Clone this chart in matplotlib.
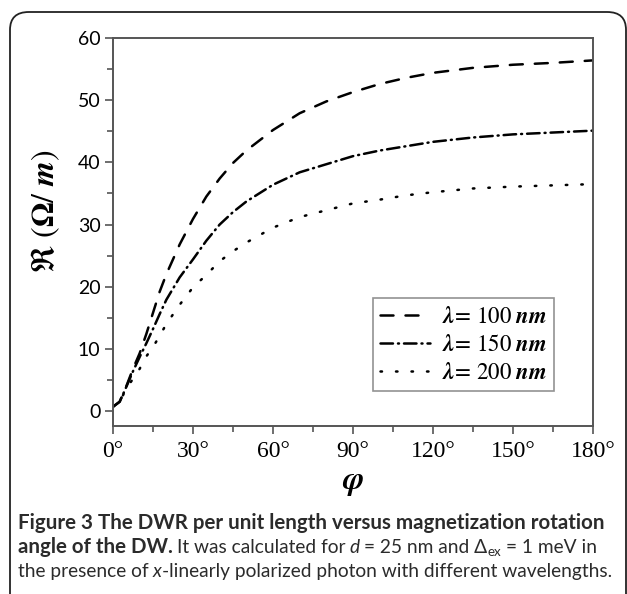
import matplotlib
matplotlib.use("Agg")
import matplotlib.pyplot as plt
from matplotlib.patches import FancyBboxPatch

plt.rcParams['mathtext.fontset'] = 'stix'

# ---------------- data ----------------
phi = [0, 2.5, 5, 7.5, 10, 12.5, 15, 17.5, 20, 25, 30, 35, 40, 45, 50, 60,
       70, 80, 90, 100, 110, 120, 135, 150, 165, 180]
r_100 = [0.7, 1.5, 4.0, 6.8, 9.3, 12.4, 15.8, 19.2, 22.0, 26.8, 30.9, 34.5,
         37.4, 39.9, 41.9, 45.2, 47.9, 49.8, 51.3, 52.6, 53.6, 54.4, 55.2,
         55.7, 56.0, 56.4]
r_150 = [0.7, 1.5, 3.9, 6.4, 8.7, 10.9, 13.2, 15.6, 17.9, 21.5, 24.4, 27.4,
         30.0, 32.0, 33.7, 36.4, 38.4, 39.7, 41.0, 41.9, 42.6, 43.3, 44.0,
         44.5, 44.8, 45.1]
r_200 = [0.7, 1.5, 3.6, 5.2, 6.8, 8.8, 10.3, 12.1, 14.0, 17.1, 19.9, 21.9,
         24.1, 25.7, 27.1, 29.5, 31.2, 32.3, 33.4, 34.0, 34.7, 35.2, 35.8,
         36.1, 36.3, 36.5]
labels = [r'$\mathbfit{\lambda}\!=\,100\ \mathbfit{nm}$',
          r'$\mathbfit{\lambda}\!=\,150\ \mathbfit{nm}$',
          r'$\mathbfit{\lambda}\!=\,200\ \mathbfit{nm}$']
xticks = [0, 30, 60, 90, 120, 150, 180]
xticklabels = ['0°', '30°', '60°', '90°', '120°', '150°', '180°']
yticks = [0, 10, 20, 30, 40, 50, 60]
yticklabels = ['0', '10', '20', '30', '40', '50', '60']

# ---------------- figure ----------------
W, H = 627, 594
fig = plt.figure(figsize=(W / 100, H / 100), dpi=100)

# outer rounded frame
frame = FancyBboxPatch((10 / W, 0.0 - 20 / H), (616) / W, (594 - 12 + 20) / H,
                       boxstyle="round,pad=0,rounding_size=0.03",
                       transform=fig.transFigure, fill=False,
                       edgecolor='#222222', linewidth=1.3, clip_on=False)
fig.patches.append(frame)

ax = fig.add_axes([113 / W, (594 - 426) / H, 480 / W, 388 / H])

lw = 1.8
ax.plot(phi, r_100, color='black', lw=lw, linestyle=(0, (5.2, 4.8)),
        dash_capstyle='round', label=labels[0])
ax.plot(phi, r_150, color='black', lw=lw, linestyle=(0, (5.0, 2.0, 0.4, 2.0)),
        dash_capstyle='round', label=labels[1])
ax.plot(phi, r_200, color='black', lw=lw, linestyle=(0, (0.6, 5.6)),
        dash_capstyle='round', label=labels[2])

ax.set_xlim(0, 180)
ax.set_ylim(-2.4, 60)

spine_col = '#555555'
for s in ax.spines.values():
    s.set_color(spine_col)
    s.set_linewidth(1.4)

ax.set_xticks(xticks)
ax.set_xticklabels(xticklabels, fontfamily='Liberation Serif', fontsize=17)
ax.set_xticks([15, 45, 75, 105, 135, 165], minor=True)
ax.set_yticks(yticks)
ax.set_yticklabels(yticklabels, fontfamily='Lato', fontsize=14)
ax.set_yticks([5, 15, 25, 35, 45, 55], minor=True)
ax.tick_params(which='major', direction='out', length=6, width=1.2,
               color=spine_col, top=False, right=False, pad=3)
ax.tick_params(which='minor', direction='out', length=4, width=1.2,
               color=spine_col, top=False, right=False)
ax.tick_params(axis='x', which='major', pad=5)

fig.text(46 / W, 1 - 211 / H,
         r'$\mathfrak{R}\ (\mathbf{\Omega}/\ \mathbfit{m})$',
         rotation=90, ha='center', va='center', fontsize=23)
fig.text(353 / W, 1 - 483 / H, r'$\mathbfit{\varphi}$', ha='center',
         va='center', fontsize=23)

leg = ax.legend(loc='upper left', bbox_to_anchor=(0.542, 0.33),
                fontsize=16.5, frameon=True, fancybox=False, borderpad=0.3,
                handlelength=2.2, handletextpad=0.5, labelspacing=0.22,
                borderaxespad=0.0)
leg.get_frame().set_edgecolor('#777777')
leg.get_frame().set_linewidth(1.2)

# ---------------- caption ----------------
renderer = fig.canvas.get_renderer()
cap_col = '#2b2b2b'
cap_font = 'Lato'
bold_size = 14.8
reg_size = 13.8


def chain(parts, x_px, y_px):
    x = x_px
    for txt, kw in parts:
        dy = kw.pop('dy', 0)
        gap = kw.pop('gap', 0)
        x += gap
        t = fig.text(x / W, 1 - (y_px + dy) / H, txt, ha='left',
                     va='baseline', color=cap_col, family=cap_font,
                     **{'fontsize': reg_size, **kw})
        bb = t.get_window_extent(renderer)
        x = bb.x1


sp = 4.2
chain([("Figure 3 The DWR per unit length versus magnetization rotation",
        dict(fontweight='bold', fontsize=bold_size))], 18, 529)
chain([("angle of the DW.", dict(fontweight='bold', fontsize=bold_size)),
       ("It was calculated for", dict(gap=sp)),
       ("d", dict(gap=sp, fontstyle='italic')),
       ("= 25 nm and Δ", dict(gap=sp)),
       ("ex", dict(fontsize=reg_size * 0.7, dy=3, gap=0.5)),
       ("= 1 meV in", dict(gap=sp))], 18, 553)
chain([("the presence of", dict()),
       ("x", dict(gap=sp, fontstyle='italic')),
       ("-linearly polarized photon with different wavelengths.",
        dict(gap=0.5))], 18, 577)

fig.savefig("out.png", dpi=100)
